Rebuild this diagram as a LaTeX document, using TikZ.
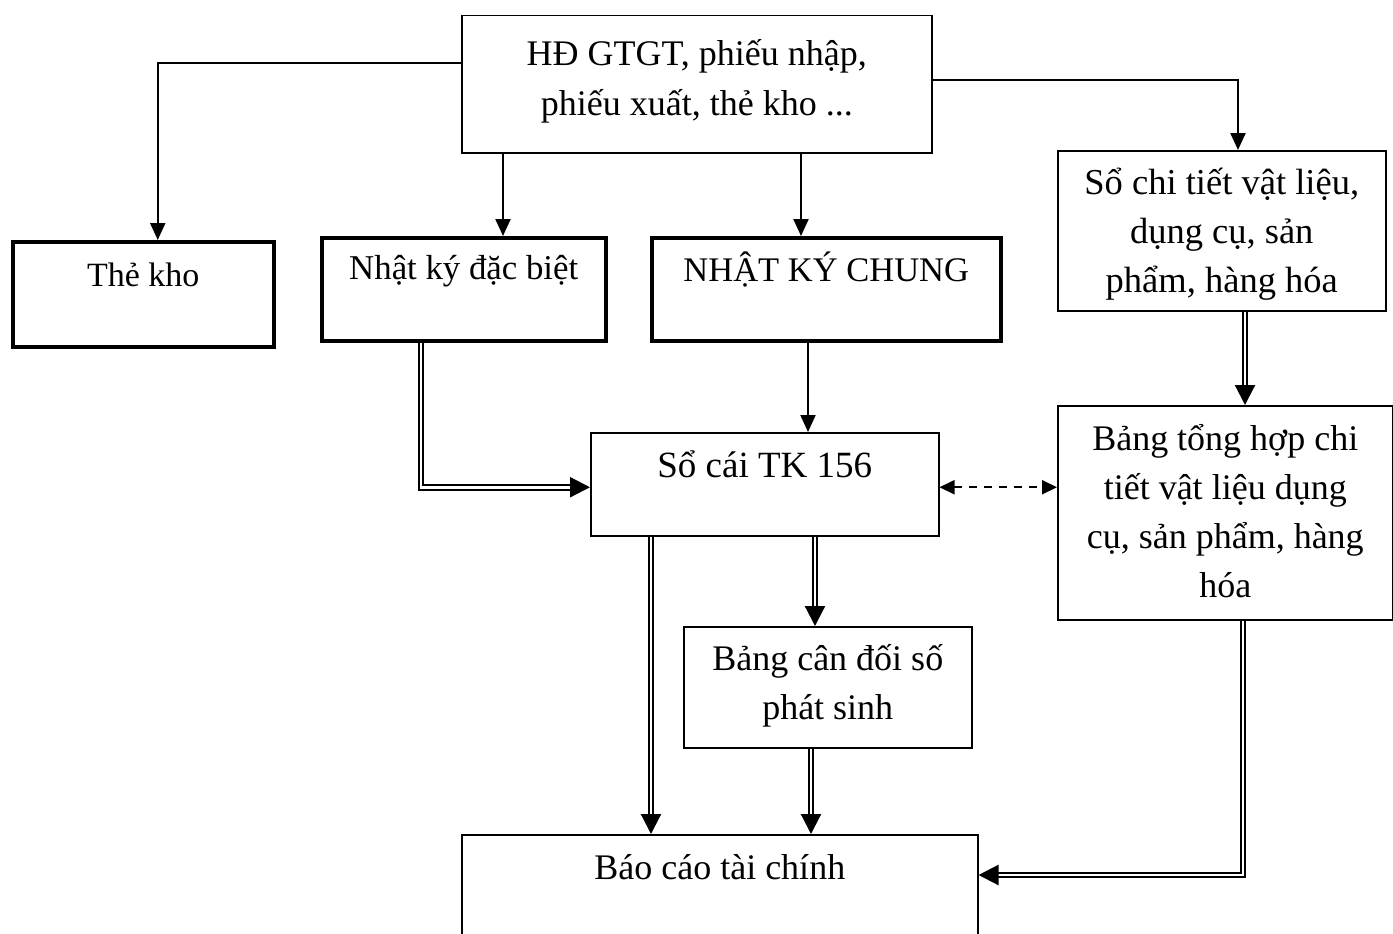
\documentclass[tikz,border=0pt]{standalone}
\usepackage{fontspec}
\setmainfont{Liberation Serif}
\usetikzlibrary{arrows.meta,calc}
\begin{document}
\begin{tikzpicture}[x=1pt,y=-1pt,
  box/.style={draw, line width=1.5pt, inner sep=0pt, align=center, anchor=north west,
              font=\fontsize{36}{49}\selectfont},
  boldbox/.style={box, line width=3.5pt},
  arr/.style={line width=2.2pt, -{Triangle[length=17pt,width=15pt]}},
  dbl/.style={double, line width=2.2pt, double distance=2.5pt, line join=miter,
              -{Triangle[length=20pt,width=20pt]}},
  dsh/.style={line width=2pt, dash pattern=on 8pt off 7pt,
              {Triangle[length=15pt,width=14pt]}-{Triangle[length=15pt,width=14pt]}}
]
\useasboundingbox (0,0) rectangle (1393,934);
\clip (0,0) rectangle (1393,934);

\node[box, minimum width=470pt, text height=100pt, text depth=37pt,
      font=\fontsize{36}{50}\selectfont] (top) at (461,15)
  {HĐ GTGT, phiếu nhập,\\phiếu xuất, thẻ kho ...};
\node[boldbox, minimum width=261pt, text height=45pt, text depth=60pt,
      font=\fontsize{34}{44}\selectfont] (thekho) at (11,240) {Thẻ kho};
\node[boldbox, minimum width=284pt, text height=42pt, text depth=61pt,
      font=\fontsize{34.8}{44}\selectfont] (nkdb) at (320,236) {Nhật ký đặc biệt};
\node[boldbox, minimum width=349pt, text height=44pt, text depth=59pt,
      font=\fontsize{34.5}{44}\selectfont] (nkc) at (650,236) {NHẬT KÝ CHUNG};
\node[box, minimum width=328pt, text height=142pt, text depth=18pt,
      font=\fontsize{36.5}{49}\selectfont] (sct) at (1057,150)
  {Sổ chi tiết vật liệu,\\dụng cụ, sản\\phẩm, hàng hóa};
\node[box, minimum width=348pt, text height=45pt, text depth=58pt,
      font=\fontsize{37}{49}\selectfont] (socai) at (590,432)
  {Sổ cái TK 156};
\node[box, minimum width=335pt, text height=192pt, text depth=22pt] (bth) at (1057,405)
  {Bảng tổng hợp chi\\tiết vật liệu dụng\\cụ, sản phẩm, hàng\\hóa};
\node[box, minimum width=288pt, text height=93pt, text depth=28pt] (bcd) at (683,626)
  {Bảng cân đối số\\phát sinh};
\node[box, minimum width=516pt, text height=45pt, text depth=105pt] (bctc) at (461,834)
  {Báo cáo tài chính};

% single arrows from the source documents
\draw[arr] ([yshift=-48pt]top.north west) -| ([xshift=14.5pt]thekho.north);
\draw[arr] (top.south -| 503,0) -- (nkdb.north -| 503,0);
\draw[arr] (top.south -| 801,0) -- (nkc.north -| 801,0);
\draw[arr] ([yshift=-65pt]top.north east) -| (sct.north -| 1238,0);
\draw[arr] (nkc.south -| 808,0) -- (socai.north -| 808,0);

% double arrows
\draw[dbl] (nkdb.south -| 421,0) |- ([yshift=-3pt]socai.west);
\draw[dbl] (sct.south -| 1245,0) -- (bth.north -| 1245,0);
\draw[dbl] (socai.south -| 651,0) -- (bctc.north -| 651,0);
\draw[dbl] (socai.south -| 815,0) -- (bcd.north -| 815,0);
\draw[dbl] (bcd.south -| 811,0) -- (bctc.north -| 811,0);
\draw[dbl] (bth.south -| 1243,0) |- ([yshift=-41pt]bctc.north east);

% dashed two-way arrow
\draw[dsh] ([yshift=-3pt]socai.east) -- ([yshift=-3pt]socai.east -| bth.west);
\end{tikzpicture}
\end{document}
